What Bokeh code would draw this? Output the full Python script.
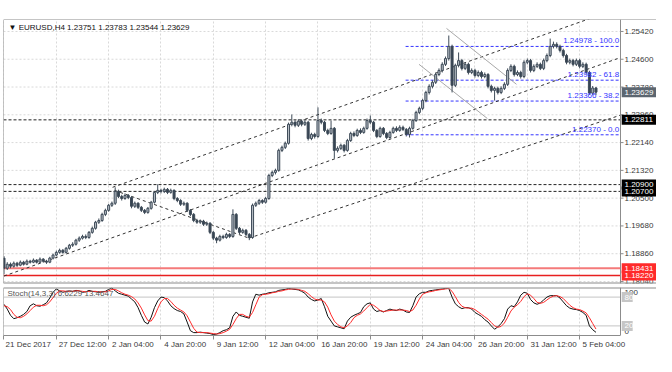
from bokeh.plotting import figure
from bokeh.models import (ColumnDataSource, Range1d, LinearAxis, FixedTicker, Grid, Span, Label)
from bokeh.layouts import column
from bokeh.embed import file_html
from bokeh.resources import INLINE
from bokeh.core.properties import value

FONT = "Liberation Sans"

# ---------------- data (EURUSD H4) ----------------
opens = [1.1873, 1.1843, 1.1855, 1.1849, 1.1858, 1.1852, 1.1861, 1.1855, 1.1864, 1.1861,
         1.1867, 1.1861, 1.1870, 1.1864, 1.1861, 1.1873, 1.1882, 1.1890, 1.1896, 1.1890,
         1.1902, 1.1911, 1.1914, 1.1926, 1.1932, 1.1937, 1.1934, 1.1949, 1.1961, 1.1979,
         1.1984, 1.2002, 1.2014, 1.2029, 1.2035, 1.2070, 1.2055, 1.2049, 1.2058, 1.2052,
         1.2026, 1.2035, 1.2023, 1.2014, 1.2008, 1.2020, 1.2038, 1.2067, 1.2073, 1.2070,
         1.2076, 1.2067, 1.2073, 1.2049, 1.2043, 1.2032, 1.2035, 1.2014, 1.2002, 1.1984,
         1.1979, 1.1982, 1.1973, 1.1976, 1.1949, 1.1932, 1.1926, 1.1937, 1.1934, 1.1943,
         1.1937, 1.2002, 1.1961, 1.1949, 1.1955, 1.1943, 1.1934, 1.2029, 1.2035, 1.2043,
         1.2038, 1.2049, 1.2117, 1.2126, 1.2132, 1.2191, 1.2200, 1.2212, 1.2268, 1.2274,
         1.2265, 1.2277, 1.2268, 1.2274, 1.2226, 1.2238, 1.2232, 1.2279, 1.2274, 1.2250,
         1.2241, 1.2256, 1.2191, 1.2197, 1.2206, 1.2191, 1.2220, 1.2241, 1.2235, 1.2250,
         1.2244, 1.2256, 1.2279, 1.2274, 1.2250, 1.2232, 1.2256, 1.2241, 1.2229, 1.2244,
         1.2256, 1.2250, 1.2259, 1.2253, 1.2238, 1.2256, 1.2279, 1.2303, 1.2315, 1.2338,
         1.2362, 1.2380, 1.2392, 1.2415, 1.2427, 1.2445, 1.2462, 1.2498, 1.2383, 1.2442,
         1.2456, 1.2433, 1.2445, 1.2421, 1.2427, 1.2412, 1.2421, 1.2409, 1.2415, 1.2380,
         1.2368, 1.2374, 1.2362, 1.2374, 1.2386, 1.2427, 1.2439, 1.2415, 1.2421, 1.2409,
         1.2451, 1.2456, 1.2427, 1.2439, 1.2445, 1.2433, 1.2456, 1.2471, 1.2498, 1.2504,
         1.2498, 1.2486, 1.2471, 1.2451, 1.2456, 1.2445, 1.2456, 1.2439, 1.2445, 1.2421,
         1.2360, 1.23751]

highs = [1.1879, 1.1861, 1.1860, 1.1863, 1.1862, 1.1866, 1.1865, 1.1869, 1.1868, 1.1872,
         1.1870, 1.1875, 1.1873, 1.1868, 1.1877, 1.1886, 1.1895, 1.1901, 1.1900, 1.1906,
         1.1915, 1.1920, 1.1930, 1.1937, 1.1942, 1.1943, 1.1953, 1.1966, 1.1983, 1.1990,
         1.2007, 1.2019, 1.2033, 1.2040, 1.2082, 1.2075, 1.2060, 1.2064, 1.2062, 1.2056,
         1.2040, 1.2038, 1.2027, 1.2018, 1.2024, 1.2042, 1.2071, 1.2091, 1.2078, 1.2081,
         1.2080, 1.2078, 1.2076, 1.2053, 1.2047, 1.2040, 1.2038, 1.2018, 1.2006, 1.1989,
         1.1987, 1.1986, 1.1981, 1.1979, 1.1953, 1.1936, 1.1942, 1.1942, 1.1948, 1.1947,
         1.2017, 1.2006, 1.1965, 1.1960, 1.1959, 1.1947, 1.2034, 1.2040, 1.2048, 1.2047,
         1.2054, 1.2122, 1.2131, 1.2137, 1.2196, 1.2205, 1.2217, 1.2273, 1.2297, 1.2280,
         1.2283, 1.2282, 1.2280, 1.2278, 1.2243, 1.2243, 1.2318, 1.2285, 1.2278, 1.2255,
         1.2279, 1.2260, 1.2203, 1.2211, 1.2210, 1.2225, 1.2246, 1.2247, 1.2255, 1.2256,
         1.2261, 1.2285, 1.2294, 1.2278, 1.2254, 1.2261, 1.2260, 1.2245, 1.2249, 1.2261,
         1.2262, 1.2265, 1.2264, 1.2257, 1.2261, 1.2284, 1.2308, 1.2320, 1.2343, 1.2367,
         1.2386, 1.2398, 1.2420, 1.2433, 1.2451, 1.2468, 1.2530, 1.2503, 1.2447, 1.2480,
         1.2461, 1.2451, 1.2450, 1.2433, 1.2432, 1.2427, 1.2426, 1.2421, 1.2419, 1.2385,
         1.2379, 1.2379, 1.2380, 1.2392, 1.2433, 1.2445, 1.2444, 1.2427, 1.2426, 1.2457,
         1.2462, 1.2461, 1.2445, 1.2451, 1.2450, 1.2462, 1.2477, 1.2521, 1.2512, 1.2510,
         1.2503, 1.2491, 1.2476, 1.2462, 1.2461, 1.2462, 1.2461, 1.2451, 1.2450, 1.2426,
         1.2381, 1.23783]

lows = [1.1826, 1.1838, 1.1843, 1.1845, 1.1847, 1.1849, 1.1851, 1.1852, 1.1857, 1.1858,
        1.1857, 1.1858, 1.1860, 1.1856, 1.1858, 1.1869, 1.1878, 1.1886, 1.1886, 1.1887,
        1.1898, 1.1906, 1.1910, 1.1921, 1.1928, 1.1929, 1.1930, 1.1945, 1.1957, 1.1974,
        1.1980, 1.1997, 1.2010, 1.2024, 1.2030, 1.2050, 1.2043, 1.2045, 1.2047, 1.2020,
        1.2021, 1.2018, 1.2009, 1.2003, 1.2004, 1.2016, 1.2034, 1.2062, 1.2064, 1.2065,
        1.2062, 1.2063, 1.2044, 1.2038, 1.2027, 1.2027, 1.2009, 1.1997, 1.1979, 1.1974,
        1.1974, 1.1968, 1.1968, 1.1944, 1.1926, 1.1917, 1.1922, 1.1929, 1.1930, 1.1932,
        1.1933, 1.1956, 1.1944, 1.1945, 1.1938, 1.1926, 1.1930, 1.2024, 1.2030, 1.2033,
        1.2034, 1.2045, 1.2112, 1.2120, 1.2128, 1.2186, 1.2195, 1.2208, 1.2262, 1.2259,
        1.2260, 1.2262, 1.2263, 1.2220, 1.2221, 1.2226, 1.2228, 1.2268, 1.2245, 1.2236,
        1.2237, 1.2167, 1.2185, 1.2192, 1.2185, 1.2187, 1.2216, 1.2230, 1.2231, 1.2239,
        1.2240, 1.2252, 1.2268, 1.2245, 1.2227, 1.2228, 1.2236, 1.2224, 1.2225, 1.2240,
        1.2245, 1.2246, 1.2248, 1.2232, 1.2229, 1.2252, 1.2275, 1.2298, 1.2310, 1.2333,
        1.2356, 1.2374, 1.2387, 1.2410, 1.2421, 1.2440, 1.2456, 1.2362, 1.2378, 1.2436,
        1.2427, 1.2428, 1.2415, 1.2416, 1.2406, 1.2407, 1.2403, 1.2404, 1.2374, 1.2362,
        1.2338, 1.2356, 1.2357, 1.2369, 1.2381, 1.2422, 1.2409, 1.2410, 1.2403, 1.2404,
        1.2445, 1.2421, 1.2422, 1.2434, 1.2428, 1.2428, 1.2451, 1.2466, 1.2492, 1.2492,
        1.2480, 1.2465, 1.2445, 1.2445, 1.2439, 1.2440, 1.2433, 1.2434, 1.2415, 1.2355,
        1.2354, 1.23544]

closes = [1.1843, 1.1855, 1.1849, 1.1858, 1.1852, 1.1861, 1.1855, 1.1864, 1.1861, 1.1867,
          1.1861, 1.1870, 1.1864, 1.1861, 1.1873, 1.1882, 1.1890, 1.1896, 1.1890, 1.1902,
          1.1911, 1.1914, 1.1926, 1.1932, 1.1937, 1.1934, 1.1949, 1.1961, 1.1979, 1.1984,
          1.2002, 1.2014, 1.2029, 1.2035, 1.2070, 1.2055, 1.2049, 1.2058, 1.2052, 1.2026,
          1.2035, 1.2023, 1.2014, 1.2008, 1.2020, 1.2038, 1.2067, 1.2073, 1.2070, 1.2076,
          1.2067, 1.2073, 1.2049, 1.2043, 1.2032, 1.2035, 1.2014, 1.2002, 1.1984, 1.1979,
          1.1982, 1.1973, 1.1976, 1.1949, 1.1932, 1.1926, 1.1937, 1.1934, 1.1943, 1.1937,
          1.2002, 1.1961, 1.1949, 1.1955, 1.1943, 1.1934, 1.2029, 1.2035, 1.2043, 1.2038,
          1.2049, 1.2117, 1.2126, 1.2132, 1.2191, 1.2200, 1.2212, 1.2268, 1.2274, 1.2265,
          1.2277, 1.2268, 1.2274, 1.2226, 1.2238, 1.2232, 1.2279, 1.2274, 1.2250, 1.2241,
          1.2256, 1.2191, 1.2197, 1.2206, 1.2191, 1.2220, 1.2241, 1.2235, 1.2250, 1.2244,
          1.2256, 1.2279, 1.2274, 1.2250, 1.2232, 1.2256, 1.2241, 1.2229, 1.2244, 1.2256,
          1.2250, 1.2259, 1.2253, 1.2238, 1.2256, 1.2279, 1.2303, 1.2315, 1.2338, 1.2362,
          1.2380, 1.2392, 1.2415, 1.2427, 1.2445, 1.2462, 1.2498, 1.2383, 1.2442, 1.2456,
          1.2433, 1.2445, 1.2421, 1.2427, 1.2412, 1.2421, 1.2409, 1.2415, 1.2380, 1.2368,
          1.2374, 1.2362, 1.2374, 1.2386, 1.2427, 1.2439, 1.2415, 1.2421, 1.2409, 1.2451,
          1.2456, 1.2427, 1.2439, 1.2445, 1.2433, 1.2456, 1.2471, 1.2498, 1.2504, 1.2498,
          1.2486, 1.2471, 1.2451, 1.2456, 1.2445, 1.2456, 1.2439, 1.2445, 1.2421, 1.2360,
          1.23751, 1.23629]

stoch_k = [65, 55, 42, 35, 37, 40, 44, 50, 62, 66,
           62, 61, 64, 68, 78, 90, 97, 93, 90, 92,
           93, 92, 94, 93, 90, 91, 94, 92, 91, 90,
           91, 92, 96, 99, 93, 88, 86, 84, 82, 76,
           70, 58, 42, 28, 24, 38, 58, 72, 80, 79,
           72, 62, 56, 52, 50, 45, 28, 10, 6, 6,
           7, 6, 5, 4, 2, 3, 6, 10, 12, 16,
           40, 49, 42, 40, 38, 36, 70, 86, 84, 86,
           87, 89, 90, 91, 94, 95, 96, 98, 97, 96,
           95, 92, 88, 80, 75, 72, 74, 77, 60, 40,
           30, 20, 18, 16, 14, 30, 38, 42, 45, 48,
           60, 66, 68, 55, 50, 52, 49, 52, 55, 53,
           52, 55, 53, 49, 48, 62, 80, 87, 90, 90,
           93, 94, 95, 96, 97, 98, 98, 80, 66, 60,
           56, 58, 58, 55, 48, 44, 40, 33, 28, 20,
           13, 18, 25, 35, 55, 62, 60, 70, 84, 90,
           88, 75, 68, 65, 68, 74, 80, 83, 83, 83,
           78, 70, 62, 57, 55, 54, 52, 48, 42, 20,
           12, 6.6229]

stoch_d = [62, 60, 54, 44, 38, 37, 40, 45, 52, 59,
           63, 63, 62, 64, 70, 79, 88, 93, 93, 92,
           92, 92, 93, 93, 92, 91, 92, 92, 92, 91,
           91, 91, 93, 96, 96, 93, 89, 86, 84, 81,
           76, 68, 57, 43, 31, 30, 40, 56, 70, 77,
           77, 71, 63, 57, 53, 49, 41, 28, 15, 7,
           6, 6, 6, 5, 4, 3, 4, 6, 9, 13,
           23, 35, 44, 44, 40, 38, 48, 64, 80, 85,
           86, 87, 89, 90, 92, 93, 95, 96, 97, 97,
           96, 94, 92, 87, 81, 76, 74, 74, 70, 59,
           43, 30, 23, 18, 16, 20, 27, 37, 42, 45,
           51, 58, 65, 63, 58, 52, 50, 51, 52, 53,
           53, 53, 53, 52, 50, 53, 63, 76, 86, 89,
           91, 92, 94, 95, 96, 97, 98, 92, 81, 69,
           61, 58, 57, 57, 54, 49, 44, 39, 34, 27,
           20, 17, 19, 26, 38, 51, 59, 64, 71, 81,
           87, 84, 77, 69, 67, 69, 74, 79, 82, 83,
           81, 77, 70, 63, 58, 55, 54, 51, 47, 37,
           25, 13.4647]

price_ticks = [1.18040, 1.18860, 1.19680, 1.20500, 1.21320, 1.22140, 1.22960, 1.23780, 1.24600, 1.25420]
time_tick_bars = [0, 16, 32, 48, 64, 80, 96, 112, 128, 144, 160, 176]
time_tick_labels = ["21 Dec 2017", "27 Dec 12:00", "2 Jan 04:00", "4 Jan 20:00", "9 Jan 12:00",
                    "12 Jan 04:00", "16 Jan 20:00", "19 Jan 12:00", "24 Jan 04:00", "26 Jan 20:00",
                    "31 Jan 12:00", "5 Feb 04:00"]

# trend / channel lines (bar index, price)
trend_x0 = [33.2, 0.0, 74.9, 33.8]
trend_y0 = [1.2082, 1.1820, 1.1932, 1.2073]
trend_x1 = [188.5, 188.5, 188.5, 74.9]
trend_y1 = [1.2612, 1.2465, 1.2295, 1.1932]
# grey descending channel
chan_x0 = [135.3, 126.9]
chan_y0 = [1.2551, 1.2445]
chan_x1 = [156.7, 147.8]
chan_y1 = [1.2386, 1.2285]

fib_levels = [1.24978, 1.23982, 1.23366, 1.22370]
fib_pct = ["100.0", "61.8", "38.2", "0.0"]
fib_start_bar = 122.8

black_levels = [1.22811, 1.20900, 1.20700]
red_levels = [1.18431, 1.18220]
red_colors = ["#f47a7a", "#e82020"]
red_widths = [2, 1.5]

stoch_levels = [80, 20]
stoch_edge_ticks = [100, 0]

header = "\u25bc EURUSD,H4  1.23751 1.23783 1.23544 1.23629"
stoch_title = "Stoch(14,3,3) 6.6229 13.4647"

# ---------------- styling / geometry ----------------
CHART_PX = 617          # width of the candle area in px
FRAME_PX = 653          # candle area + price scale strip
X0, X1 = -0.15, 188.5   # visible bars
PPB = CHART_PX / (X1 - X0)
XR = X0 + FRAME_PX / PPB
Y_LO, Y_HI = 1.17981, 1.25773

BULL_FILL = "#b7bec6"
BEAR_FILL = "#364452"
EDGE = "#3e4b58"
AXIS_C = "#8c8c8c"
GRID_C = "#d9d9d9"
TXT_C = "#3a3a3a"

n = len(closes)
idx = list(range(n))
tops = [max(o, c) for o, c in zip(opens, closes)]
bots = [min(o, c) for o, c in zip(opens, closes)]
fills = [BULL_FILL if c >= o else BEAR_FILL for o, c in zip(opens, closes)]
src = ColumnDataSource(dict(x=idx, h=highs, l=lows, top=tops, bottom=bots, fill=fills))

xr = Range1d(X0, XR)

main = figure(frame_width=FRAME_PX, frame_height=264, x_range=xr, y_range=Range1d(Y_LO, Y_HI),
              output_backend="svg", toolbar_location=None, x_axis_location=None, y_axis_location=None,
              min_border_left=3, min_border_right=0, min_border_top=19, min_border_bottom=3,
              outline_line_color=None, background_fill_color="white", border_fill_color="white")
main.grid.visible = False
main.add_layout(Grid(dimension=0, ticker=FixedTicker(ticks=time_tick_bars),
                     grid_line_color=GRID_C, grid_line_dash="2 2"))
main.segment(x0=[X0] * len(price_ticks), y0=price_ticks, x1=[X1] * len(price_ticks), y1=price_ticks,
             line_color=GRID_C, line_dash="2 2", line_width=1)

# frame borders and price scale line
main.add_layout(Span(location=Y_HI, dimension="width", line_color=AXIS_C, line_width=1))
main.add_layout(Span(location=Y_LO, dimension="width", line_color=AXIS_C, line_width=2))
main.add_layout(Span(location=X0, dimension="height", line_color=AXIS_C, line_width=1))
main.add_layout(Span(location=X1, dimension="height", line_color=AXIS_C, line_width=1))

# horizontal levels
lvl_src = ColumnDataSource(dict(x0=[X0] * len(black_levels), x1=[X1] * len(black_levels), y=black_levels))
main.segment(x0="x0", y0="y", x1="x1", y1="y", source=lvl_src, line_color="#222222",
             line_width=1, line_dash="3 2")
red_src = ColumnDataSource(dict(x0=[X0] * len(red_levels), x1=[X1] * len(red_levels), y=red_levels,
                                c=red_colors, w=red_widths))
main.segment(x0="x0", y0="y", x1="x1", y1="y", source=red_src, line_color="c", line_width="w")

# fibonacci
fib_src = ColumnDataSource(dict(x0=[fib_start_bar] * len(fib_levels), x1=[X1] * len(fib_levels),
                                y=fib_levels, t=[f"{lv:.5f} - {p}" for lv, p in zip(fib_levels, fib_pct)]))
main.segment(x0="x0", y0="y", x1="x1", y1="y", source=fib_src, line_color="#3434ff",
             line_width=1, line_dash="3 2")

# channel lines
tr_src = ColumnDataSource(dict(x0=trend_x0, y0=trend_y0, x1=trend_x1, y1=trend_y1))
main.segment(x0="x0", y0="y0", x1="x1", y1="y1", source=tr_src, line_color="#333333",
             line_width=1, line_dash="3 3")
ch_src = ColumnDataSource(dict(x0=chan_x0, y0=chan_y0, x1=chan_x1, y1=chan_y1))
main.segment(x0="x0", y0="y0", x1="x1", y1="y1", source=ch_src, line_color="#a8a8a8", line_width=1)

# candles
main.segment(x0="x", y0="h", x1="x", y1="l", source=src, line_color=EDGE, line_width=1)
main.vbar(x="x", width=0.62, top="top", bottom="bottom", source=src, fill_color="fill",
          line_color=EDGE, line_width=1)

# fib labels
main.text(x=X1 - 0.4, y="y", text="t", source=fib_src,
          text_font=value(FONT), text_font_size=value("8px"), text_color="#3434ff",
          text_align="right", text_baseline="bottom", y_offset=-1)

# price scale: ticks and labels
tick_len = 3 / PPB
lab_x = X1 + 4 / PPB
main.segment(x0=[X1] * len(price_ticks), y0=price_ticks, x1=[X1 + tick_len] * len(price_ticks),
             y1=price_ticks, line_color=AXIS_C, line_width=1)
main.text(x=[lab_x] * len(price_ticks), y=price_ticks, text=[f"{v:.5f}" for v in price_ticks],
          text_font=value(FONT), text_font_size=value("8px"), text_color=TXT_C,
          text_align="left", text_baseline="middle")

# coloured value boxes on the price scale
box_levels = [closes[-1]] + black_levels + red_levels
box_fill = ["#5c6670"] + ["#000000"] * len(black_levels) + ["#ff2a2a"] * len(red_levels)
box_src = ColumnDataSource(dict(y=box_levels, c=box_fill, t=[f"{v:.5f}" for v in box_levels]))
box_left = X1 + 1.2 / PPB
main.rect(x=(box_left + XR) / 2, y="y", width=XR - box_left, height=10, height_units="screen",
          source=box_src, fill_color="c", line_color=None)
main.text(x=lab_x, y="y", text="t", source=box_src, text_font=value(FONT),
          text_font_size=value("8px"), text_color="white", text_align="left", text_baseline="middle")

main.add_layout(Label(x=5, y=261, x_units="screen", y_units="screen", text=header, text_font=FONT,
                      text_font_size="8px", text_color="#111111", text_baseline="top"))

# ---------------- stochastic panel ----------------
stoch = figure(frame_width=FRAME_PX, frame_height=48, x_range=xr, y_range=Range1d(0, 100),
               output_backend="svg", toolbar_location=None, x_axis_location=None, y_axis_location=None,
               min_border_left=3, min_border_right=0, min_border_top=1, min_border_bottom=0,
               outline_line_color=None, background_fill_color="white", border_fill_color="white")
stoch.grid.visible = False
stoch.add_layout(Grid(dimension=0, ticker=FixedTicker(ticks=time_tick_bars),
                      grid_line_color=GRID_C, grid_line_dash="2 2"))
stoch.add_layout(Span(location=100, dimension="width", line_color=AXIS_C, line_width=2))
stoch.add_layout(Span(location=X0, dimension="height", line_color=AXIS_C, line_width=1))
stoch.add_layout(Span(location=X1, dimension="height", line_color=AXIS_C, line_width=1))
stoch.segment(x0=[X0] * len(stoch_levels), y0=stoch_levels, x1=[X1] * len(stoch_levels),
              y1=stoch_levels, line_color="#c4c4c4", line_width=1)
stoch.line(idx, stoch_k, line_color="#111111", line_width=1)
stoch.line(idx, stoch_d, line_color="#ff2a2a", line_width=1)

# stochastic scale
edge_src = ColumnDataSource(dict(y=stoch_edge_ticks, t=[str(v) for v in stoch_edge_ticks], off=[5, -4]))
stoch.text(x=lab_x, y="y", text="t", source=edge_src, y_offset="off",
           text_font=value(FONT), text_font_size=value("8px"), text_color=TXT_C,
           text_align="left", text_baseline="middle")
slv_src = ColumnDataSource(dict(y=stoch_levels, t=[str(v) for v in stoch_levels]))
stoch.rect(x=box_left + 5.5 / PPB, y="y", width=11 / PPB, height=10, height_units="screen",
           source=slv_src, fill_color="#c6c6c6", line_color=None)
stoch.text(x=lab_x, y="y", text="t", source=slv_src, text_font=value(FONT),
           text_font_size=value("8px"), text_color="white", text_align="left", text_baseline="middle")

stoch.add_layout(Label(x=4, y=47, x_units="screen", y_units="screen", text=stoch_title,
                       text_font=FONT, text_font_size="8px", text_color="#555555",
                       text_baseline="top"))

# time axis: tick marks on their bars (minor ticks), labels starting at the tick
label_pos = [round(t + (len(s) * 4.05 / 2 + 2) / PPB, 2)
             for t, s in zip(time_tick_bars, time_tick_labels)]
tax = LinearAxis(ticker=FixedTicker(ticks=label_pos, minor_ticks=time_tick_bars),
                 major_label_overrides={p: s for p, s in zip(label_pos, time_tick_labels)},
                 bounds=(X0, X1), axis_line_color=AXIS_C, major_tick_line_color=None,
                 major_tick_out=0, major_tick_in=0,
                 minor_tick_line_color=AXIS_C, minor_tick_out=4, minor_tick_in=0,
                 major_label_standoff=0, major_label_text_font=FONT,
                 major_label_text_font_size="8px", major_label_text_color=TXT_C)
stoch.add_layout(tax, "below")

layout = column(main, stoch, spacing=0)
open("out.html", "w").write(file_html(layout, INLINE))
